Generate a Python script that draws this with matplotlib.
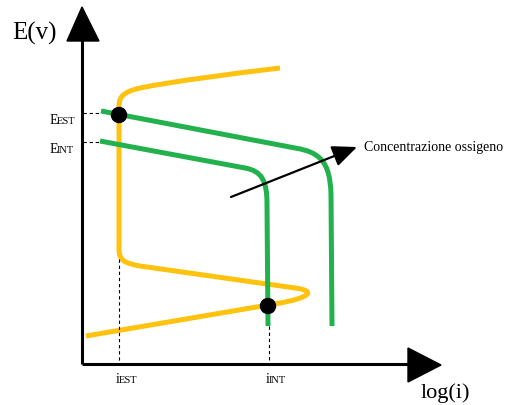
import matplotlib.pyplot as plt
from matplotlib.path import Path
from matplotlib.patches import PathPatch, Polygon, Circle

# diagram coordinates: x = log(i), y = E (pixel-like units, y grows downward)
M, L, C = Path.MOVETO, Path.LINETO, Path.CURVE4

# anodic/cathodic curve of the metal (yellow)
metal_x = [86, 280, 308, 318, 295, 140, 125, 119, 119, 119, 119, 123, 140, 175, 230, 280]
metal_y = [337, 304, 299, 292, 289, 267, 264, 262, 250, 107, 98, 93, 89, 82, 75, 69]
metal_codes = [M, L, C, C, C, L, C, C, C, L, C, C, C, C, C, C]

# oxygen reduction curves (green), external and internal
ext_x = [101, 295, 320, 330, 331, 332]
ext_y = [112, 149, 153, 163, 195, 327]
int_x = [100, 245, 262, 267, 267, 268]
int_y = [142, 169, 172, 182, 205, 327]
o2_codes = [M, L, C, C, C, L]

# corrosion points
pts_x = [119, 268]
pts_y = [116, 307]

# axis marks
E_levels = [114, 143]
E_names = ['EST', 'INT']
i_levels = [119, 269]
i_names = ['EST', 'INT']
i_tops = [260, 327]

yellow = '#FFC20E'
green = '#22B14C'
serif = 'Liberation Serif'

fig = plt.figure(figsize=(5.08, 4.06), dpi=100)
ax = fig.add_axes([0, 0, 1, 1])
ax.set_xlim(0, 508)
ax.set_ylim(406, 0)
ax.axis('off')

# axes with arrow heads
ax.plot([82, 82], [365, 40], color='black', lw=2.2, solid_capstyle='butt')
ax.plot([82, 410], [365, 365], color='black', lw=2.2, solid_capstyle='butt')
ax.add_patch(Polygon([[67, 42], [99, 42], [82, 8]], closed=True, color='black'))
ax.add_patch(Polygon([[408, 349], [408, 383], [441, 366]], closed=True, color='black'))

# dashed guides
for y in E_levels:
    ax.plot([83, 101], [y, y], color='black', lw=0.8, ls=(0, (3, 2.5)))
for x, top in zip(i_levels, i_tops):
    ax.plot([x, x], [top, 364], color='black', lw=0.8, ls=(0, (3, 2.5)))

# curves
for xs, ys, codes, col in [(metal_x, metal_y, metal_codes, yellow),
                           (ext_x, ext_y, o2_codes, green),
                           (int_x, int_y, o2_codes, green)]:
    path = Path(list(zip(xs, ys)), codes)
    ax.add_patch(PathPatch(path, facecolor='none', edgecolor=col, lw=3.6,
                           capstyle='butt', joinstyle='round'))

for x, y in zip(pts_x, pts_y):
    ax.add_patch(Circle((x, y), 7.5, color='black', zorder=5))

# oxygen concentration arrow
ax.annotate('', xy=(357, 148), xytext=(231, 198),
            arrowprops=dict(arrowstyle='-|>,head_length=15,head_width=6.5',
                            mutation_scale=1, color='black', lw=1.6,
                            shrinkA=0, shrinkB=0))
ax.text(364, 148, 'Concentrazione ossigeno', family=serif, fontsize=10,
        va='center', ha='left')

# labels
ax.text(12, 33, 'E(v)', family=serif, fontsize=18, va='center', ha='left')
ax.text(421, 393, 'log(i)', family=serif, fontsize=16, va='center', ha='left')
for y, name in zip(E_levels, E_names):
    ax.text(50, y + 10, 'E', family=serif, fontsize=10, va='baseline', ha='left')
    ax.text(57, y + 10, name, family=serif, fontsize=7.5, va='baseline', ha='left')
for x, name in zip(i_levels, i_names):
    ax.text(x - 3, 383, 'i', family=serif, fontsize=10, va='baseline', ha='left')
    ax.text(x, 383, name, family=serif, fontsize=7.5, va='baseline', ha='left')

fig.savefig('out.png', dpi=100)
